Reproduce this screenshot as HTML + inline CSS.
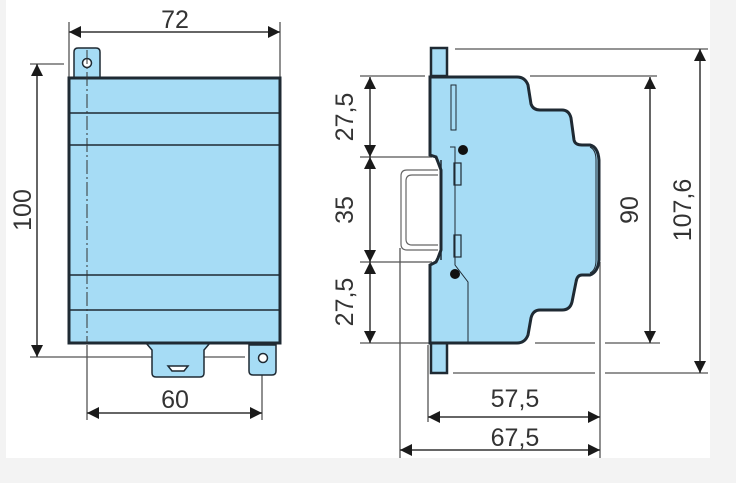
<!DOCTYPE html>
<html><head><meta charset="utf-8"><style>
html,body{margin:0;padding:0;background:#f3f3f3;}
svg{display:block}
text{font-family:"Liberation Sans",sans-serif;font-size:25px;fill:#333}
</style></head><body>
<svg width="736" height="483" viewBox="0 0 736 483" xmlns="http://www.w3.org/2000/svg">
<defs>
<marker id="a" viewBox="0 0 10 10" refX="10" refY="5" markerWidth="16" markerHeight="12" markerUnits="userSpaceOnUse" orient="auto-start-reverse"><path d="M0,0L10,5L0,10z" fill="#1a1a1a"/></marker>
</defs>
<rect x="6" y="0" width="704" height="458" fill="#fff"/>
<g stroke="#555" stroke-width="1.3" fill="none">
<line x1="69" y1="22" x2="69" y2="78"/>
<line x1="280" y1="22" x2="280" y2="78"/>
<line x1="30" y1="64" x2="64" y2="64"/>
<line x1="30" y1="357" x2="245" y2="357"/>
<line x1="262" y1="375" x2="262" y2="420"/>
<line x1="87" y1="345" x2="87" y2="420"/>
</g>
<g stroke="#333" stroke-width="1.5">
<line x1="69" y1="32" x2="280" y2="32" marker-start="url(#a)" marker-end="url(#a)"/>
<line x1="37" y1="64" x2="37" y2="357" marker-start="url(#a)" marker-end="url(#a)"/>
<line x1="87" y1="413" x2="262" y2="413" marker-start="url(#a)" marker-end="url(#a)"/>
</g>
<g stroke="#1f2a33" stroke-width="1.5" fill="#a6dcf5">
<path d="M74,78 L74,52 Q74,48 78,48 L96,48 Q100,48 100,52 L100,78z"/>
<circle cx="87" cy="63" r="4.5" fill="#fff"/>
<path d="M146,343 L152,350 L152,373 Q152,377 156,377 L200,377 Q204,377 204,373 L204,350 L210,343z"/>
<path d="M168,366 L188,366 L184,371 L172,371z" fill="#fff"/>
<path d="M249,345 L276,345 L276,371 Q276,375 272,375 L253,375 Q249,375 249,371z"/>
<circle cx="263" cy="358" r="4.5" fill="#fff"/>
<rect x="69" y="78" width="211" height="265" stroke-width="3"/>
<line x1="69" y1="113" x2="280" y2="113"/>
<line x1="69" y1="145" x2="280" y2="145"/>
<line x1="69" y1="275" x2="280" y2="275"/>
<line x1="69" y1="310" x2="280" y2="310"/>
</g>
<line x1="87" y1="50" x2="87" y2="343" stroke="#333" stroke-width="1" stroke-dasharray="14,3,2,3"/>
<text x="175" y="28" text-anchor="middle">72</text>
<text x="175" y="408" text-anchor="middle">60</text>
<text transform="translate(31,210) rotate(-90)" text-anchor="middle">100</text>

<g stroke="#555" stroke-width="1.3" fill="none">
<line x1="455" y1="49" x2="708" y2="49"/>
<line x1="530" y1="76" x2="657" y2="76"/>
<line x1="360" y1="76" x2="425" y2="76"/>
<line x1="360" y1="157" x2="432" y2="157"/>
<line x1="360" y1="262" x2="432" y2="262"/>
<line x1="360" y1="343" x2="430" y2="343"/>
<line x1="535" y1="343" x2="595" y2="343"/>
<line x1="605" y1="343" x2="660" y2="343"/>
<line x1="453" y1="373" x2="595" y2="373"/>
<line x1="605" y1="373" x2="708" y2="373"/>
<line x1="400" y1="248" x2="400" y2="458"/>
<line x1="428" y1="345" x2="428" y2="422"/>
<line x1="600" y1="262" x2="600" y2="458"/>
</g>
<g stroke="#333" stroke-width="1.5">
<line x1="370" y1="77" x2="370" y2="157" marker-start="url(#a)" marker-end="url(#a)"/>
<line x1="370" y1="157" x2="370" y2="262" marker-start="url(#a)" marker-end="url(#a)"/>
<line x1="370" y1="262" x2="370" y2="343" marker-start="url(#a)" marker-end="url(#a)"/>
<line x1="650" y1="77" x2="650" y2="343" marker-start="url(#a)" marker-end="url(#a)"/>
<line x1="700" y1="49" x2="700" y2="373" marker-start="url(#a)" marker-end="url(#a)"/>
<line x1="428" y1="417" x2="600" y2="417" marker-start="url(#a)" marker-end="url(#a)"/>
<line x1="400" y1="450" x2="600" y2="450" marker-start="url(#a)" marker-end="url(#a)"/>
</g>
<path d="M438,170 L407,170 Q401,170 401,176 L401,244 Q401,250 407,250 L438,250 M438,175 L412,175 Q406,175 406,181 L406,239 Q406,245 412,245 L438,245" fill="none" stroke="#666" stroke-width="1.2"/>
<g stroke="#1f2a33" fill="#a6dcf5">
<rect x="431" y="48" width="16" height="28" stroke-width="2.5"/>
<rect x="431" y="343" width="16" height="30" stroke-width="2.5"/>
<path d="M430,77 L517,77 Q525,77 528,85 L531,104 Q533,110 540,110 L562,110 Q569,110 571,118 L574,140 Q575,145 582,145 L590,145 Q598,147 599,160 L599,260 Q598,272 590,275 L582,275 Q577,275 576,282 L572,302 Q570,310 562,310 L540,310 Q533,310 531,318 L528,335 Q525,343 517,343 L430,343 L430,265 L436,262 L438,258 L441,250 L441,170 L438,162 L436,157 L430,155 Z" stroke-width="3"/>
<path d="M441,160 L441,260" stroke-width="1.5" fill="none"/>
<path d="M450,147 L455,147 L455,265 L468,282 L468,343" stroke-width="1" fill="none"/>
<rect x="451" y="85" width="5" height="45" stroke-width="1" fill="none"/>
<rect x="454" y="163" width="7" height="22" stroke-width="1.2" fill="none"/>
<rect x="454" y="235" width="7" height="22" stroke-width="1.2" fill="none"/>
<path d="M590,147 Q596,150 596,160 L596,260 Q596,270 590,273" fill="none" stroke-width="1"/>
</g>
<circle cx="463" cy="150" r="5" fill="#111"/>
<circle cx="455" cy="274" r="5" fill="#111"/>
<text transform="translate(353,117) rotate(-90)" text-anchor="middle">27,5</text>
<text transform="translate(353,210) rotate(-90)" text-anchor="middle">35</text>
<text transform="translate(353,302) rotate(-90)" text-anchor="middle">27,5</text>
<text transform="translate(638,210) rotate(-90)" text-anchor="middle">90</text>
<text transform="translate(691,210) rotate(-90)" text-anchor="middle">107,6</text>
<text x="515" y="407" text-anchor="middle">57,5</text>
<text x="515" y="446" text-anchor="middle">67,5</text>
</svg>
</body></html>
